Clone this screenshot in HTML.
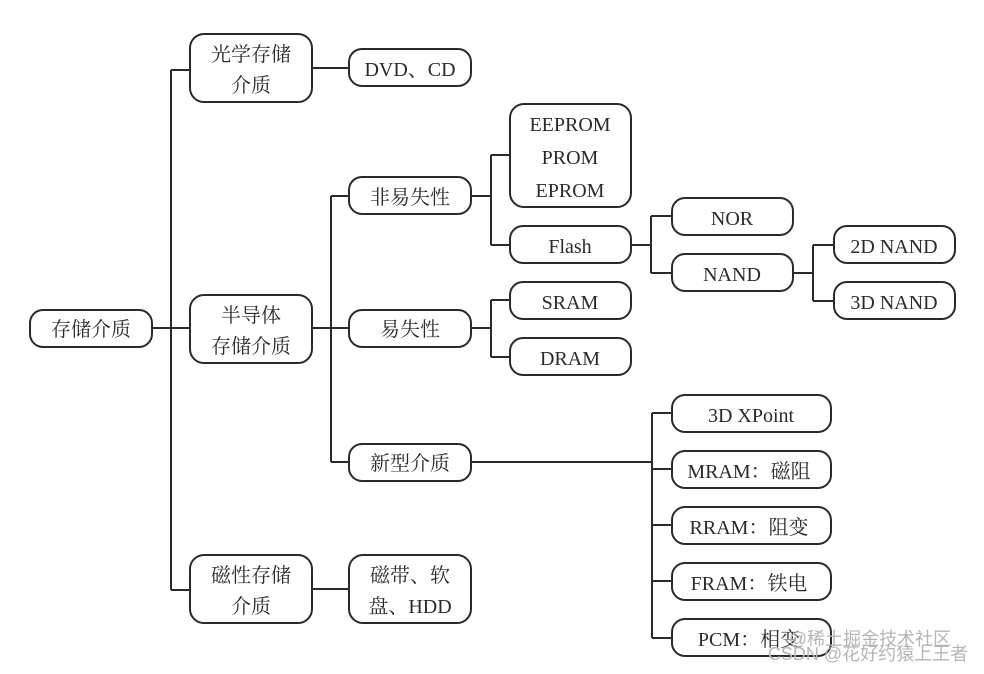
<!DOCTYPE html>
<html><head><meta charset="utf-8"><style>
html,body{margin:0;padding:0;background:#fff;}
svg text{font-family:"Liberation Serif","Noto Serif CJK SC",serif;font-size:20px;fill:#2a2a2a;text-anchor:middle;}
</style></head><body>
<svg width="984" height="669" viewBox="0 0 984 669" xmlns="http://www.w3.org/2000/svg">
<g fill="none" stroke="#2a2a2a" stroke-width="2">
<path d="M152 328 H171 M171 70 V590 M171 70 H190 M171 328 H190 M171 590 H190"/>
<path d="M312 68 H349"/>
<path d="M312 589 H349"/>
<path d="M312 328 H331 M331 196 V462 M331 196 H349 M331 328 H349 M331 462 H349"/>
<path d="M471 196 H491 M491 155 V245 M491 155 H510 M491 245 H510"/>
<path d="M471 328 H491 M491 300 V357 M491 300 H510 M491 357 H510"/>
<path d="M631 245 H651 M651 216 V273 M651 216 H672 M651 273 H672"/>
<path d="M793 273 H813 M813 245 V301 M813 245 H834 M813 301 H834"/>
<path d="M471 462 H652 M652 413 V638 M652 413 H672 M652 469 H672 M652 525 H672 M652 581 H672 M652 638 H672"/>
<rect x="30" y="310" width="122" height="37" rx="13"/>
<rect x="190" y="34" width="122" height="68" rx="14"/>
<rect x="349" y="49" width="122" height="37" rx="13"/>
<rect x="190" y="295" width="122" height="68" rx="14"/>
<rect x="190" y="555" width="122" height="68" rx="14"/>
<rect x="349" y="555" width="122" height="68" rx="14"/>
<rect x="349" y="177" width="122" height="37" rx="13"/>
<rect x="349" y="310" width="122" height="37" rx="13"/>
<rect x="349" y="444" width="122" height="37" rx="13"/>
<rect x="510" y="104" width="121" height="103" rx="14"/>
<rect x="510" y="226" width="121" height="37" rx="13"/>
<rect x="510" y="282" width="121" height="37" rx="13"/>
<rect x="510" y="338" width="121" height="37" rx="13"/>
<rect x="672" y="198" width="121" height="37" rx="13"/>
<rect x="672" y="254" width="121" height="37" rx="13"/>
<rect x="834" y="226" width="121" height="37" rx="13"/>
<rect x="834" y="282" width="121" height="37" rx="13"/>
<rect x="672" y="395" width="159" height="37" rx="13"/>
<rect x="672" y="451" width="159" height="37" rx="13"/>
<rect x="672" y="507" width="159" height="37" rx="13"/>
<rect x="672" y="563" width="159" height="37" rx="13"/>
<rect x="672" y="619" width="159" height="37" rx="13"/>
</g>
<text x="91" y="336">存储介质</text>
<text x="251" y="61">光学存储</text><text x="251" y="92">介质</text>
<text x="410" y="76">DVD、CD</text>
<text x="251" y="322">半导体</text><text x="251" y="353">存储介质</text>
<text x="251" y="582">磁性存储</text><text x="251" y="613">介质</text>
<text x="410" y="582">磁带、软</text><text x="410" y="613">盘、HDD</text>
<text x="410" y="204">非易失性</text>
<text x="410" y="336">易失性</text>
<text x="410" y="470">新型介质</text>
<text x="570" y="131">EEPROM</text><text x="570" y="164">PROM</text><text x="570" y="197">EPROM</text>
<text x="570" y="253">Flash</text>
<text x="570" y="309">SRAM</text>
<text x="570" y="365">DRAM</text>
<text x="732" y="225">NOR</text>
<text x="732" y="281">NAND</text>
<text x="894" y="253">2D NAND</text>
<text x="894" y="309">3D NAND</text>
<text x="751" y="422">3D XPoint</text>
<text x="749" y="478">MRAM：磁阻</text>
<text x="749" y="534">RRAM：阻变</text>
<text x="749" y="590">FRAM：铁电</text>
<text x="749" y="646">PCM：相变</text>
<text x="870" y="645" style="font-family:'Liberation Sans','Noto Sans CJK SC',sans-serif;font-size:18px;fill:#b5b5b5;">@稀土掘金技术社区</text>
<text x="868" y="660" style="font-family:'Liberation Sans','Noto Sans CJK SC',sans-serif;font-size:18px;fill:#b5b5b5;">CSDN @花好约猿上王者</text>
</svg>
</body></html>
